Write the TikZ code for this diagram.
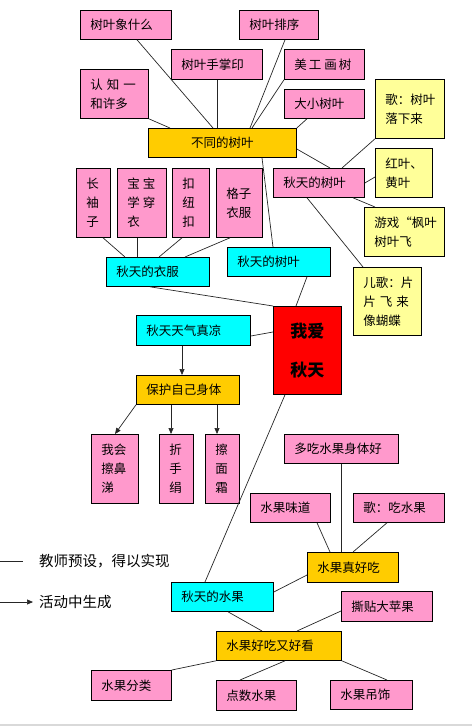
\documentclass[tikz,border=0pt]{standalone}
\usepackage{fontspec}
\setmainfont{Noto Sans CJK SC}
\usetikzlibrary{arrows.meta}
\definecolor{pk}{HTML}{FF99CC}
\definecolor{gd}{HTML}{FFCC00}
\definecolor{cy}{HTML}{00FFFF}
\definecolor{yl}{HTML}{FFFF99}
\definecolor{rd}{HTML}{FF0000}
\tikzset{
  box/.style={draw=black,line width=0.8pt,inner xsep=10pt,inner ysep=0pt,font=\fontsize{12.5}{19}\selectfont},
  con/.style={draw=black!85,line width=0.7pt},
  arr/.style={con,-{Triangle[length=6pt,width=5pt]}},
  legend/.style={anchor=west,inner sep=0pt,font=\fontsize{14.5}{16}\selectfont}
}
\newcommand\bx[8][left]{%
  \pgfmathsetmacro\bw{#5-#3}\pgfmathsetmacro\bh{#6-#4}\pgfmathsetmacro\tw{#5-#3-20}%
  \node[box,fill=#7,minimum width=\bw pt,minimum height=\bh pt,text width=\tw pt,align=#1,anchor=north west] (#2) at (#3,#4) {#8};}
\begin{document}
\begin{tikzpicture}[x=1pt,y=-1pt]
\useasboundingbox (0,0) rectangle (472,726);
\fill[black!15] (0,724) rectangle (472,726);
% boxes
\bx{t1}{80}{10}{171}{39}{pk}{树叶象什么}
\bx{t2}{239}{10}{318}{39}{pk}{树叶排序}
\bx{t3}{171}{49}{262}{79}{pk}{树叶手掌印}
\bx{t4}{284}{49}{364}{79}{pk}{美\hspace{2pt}工\hspace{3pt}画\hspace{2pt}树}
\bx{t5}{80}{69}{148}{118}{pk}{认\hspace{4pt}知\hspace{4pt}一\\和许多}
\bx{t6}{284}{89}{364}{118}{pk}{大小树叶}
\bx{y1}{375}{79}{444}{138}{yl}{歌：树叶\\落下来}
\bx[center]{g1}{148}{128}{296}{157}{gd}{不同的树叶}
\bx{y2}{375}{148}{432}{197}{yl}{红叶、\\黄叶}
\bx{p1}{273}{168}{364}{197}{pk}{秋天的树叶}
\bx{c1}{76}{168}{110}{237}{pk}{长\\袖\\子}
\bx{c2}{117}{168}{166}{237}{pk}{宝\hspace{3pt}宝\\学\hspace{3pt}穿\\衣}
\bx{c3}{172}{168}{209}{237}{pk}{扣\\纽\\扣}
\bx{c4}{216}{168}{262}{237}{pk}{格子\\衣服}
\bx{y3}{364}{207}{444}{256}{yl}{游戏“枫叶\\树叶飞}
\bx{k1}{227}{247}{330}{276}{cy}{秋天的树叶}
\bx{k2}{106}{257}{209}{286}{cy}{秋天的衣服}
\bx{y4}{353}{267}{421}{335}{yl}{儿歌：片\\片\hspace{4pt}飞\hspace{4pt}来\\像蝴蝶}
\node[box,fill=rd,minimum width=68pt,minimum height=88pt,align=center,anchor=north west,inner xsep=0pt,
  font=\fontsize{17}{39}\selectfont\bfseries] (r) at (273,306) {我爱\\秋天};
\bx{k3}{136}{315}{250}{345}{cy}{秋天天气真凉}
\bx{g2}{136}{375}{239}{404}{gd}{保护自己身体}
\bx{b1}{91}{434}{138}{503}{pk}{我会\\擦鼻\\涕}
\bx{b2}{159}{434}{193}{503}{pk}{折\\手\\绢}
\bx{b3}{205}{434}{239}{503}{pk}{擦\\面\\霜}
\bx{f1}{284}{434}{398}{463}{pk}{多吃水果身体好}
\bx{f2}{250}{493}{330}{522}{pk}{水果味道}
\bx{f3}{353}{493}{444}{522}{pk}{歌：吃水果}
\bx{g3}{307}{552}{398}{582}{gd}{水果真好吃}
\bx{k4}{171}{582}{273}{611}{cy}{秋天的水果}
\bx{f4}{341}{591}{432}{621}{pk}{撕贴大苹果}
\bx{g4}{216}{631}{341}{660}{gd}{水果好吃又好看}
\bx{f5}{91}{670}{171}{700}{pk}{水果分类}
\bx{f6}{216}{680}{296}{710}{pk}{点数水果}
\bx{f7}{330}{680}{412}{709}{pk}{水果吊饰}
% connectors
\draw[con] (t1.south -| 137,0) -- (g1.north -| 213,0);
\draw[con] (t3.south -| 217,0) -- (g1.north -| 217,0);
\draw[con] (t2.south -| 285,0) -- (g1.north -| 250,0);
\draw[con] (t4.south west) -- (g1.north -| 252,0);
\draw[con] (t5.south east) -- (g1.north -| 170,0);
\draw[con] (t6.south -| 307,0) -- (g1.north east);
\draw[con] (g1.east |- 0,149) -- (p1.north -| 330,0);
\draw[con] (y1.south west) -- (p1.north -| 342,0);
\draw[con] (y2.west |- 0,177) -- (p1.east |- 0,183);
\draw[con] (p1.south -| 353,0) -- (y3.north -| 375,0);
\draw[con] (p1.south -| 307,0) -- (y4.north -| 363,0);
\draw[con] (g1.south -| 262,0) -- (k1.north -| 273,0);
\draw[con] (c1.south -| 103,0) -- (k2.north -| 125,0);
\draw[con] (c2.south -| 137,0) -- (k2.north -| 137,0);
\draw[con] (c3.south -| 182,0) -- (k2.north -| 159,0);
\draw[con] (c4.south -| 230,0) -- (k2.north -| 185,0);
\draw[con] (k2.south -| 150,0) -- (r.north west);
\draw[con] (k1.south -| 307,0) -- (r.north -| 296,0);
\draw[con] (k3.east |- 0,336) -- (r.west |- 0,332);
\draw[arr] (k3.south -| 182,0) -- (g2.north -| 182,0);
\draw[arr] (g2.south west) -- (b1.north -| 115,0);
\draw[arr] (g2.south -| 171,0) -- (b2.north -| 171,0);
\draw[arr] (g2.south -| 217,0) -- (b3.north -| 217,0);
\draw[con] (r.south -| 285,0) -- (k4.north -| 205,0);
\draw[con] (f1.south -| 341,0) -- (g3.north -| 341,0);
\draw[con] (f2.south -| 317,0) -- (g3.north -| 330,0);
\draw[con] (f3.south -| 387,0) -- (g3.north -| 353,0);
\draw[con] (g3.west |- 0,575) -- (k4.east |- 0,592);
\draw[con] (k4.south -| 228,0) -- (g4.north -| 262,0);
\draw[con] (f4.west |- 0,611) -- (g4.north -| 297,0);
\draw[con] (g4.south west) -- (f5.north east);
\draw[con] (g4.south -| 285,0) -- (f6.north -| 240,0);
\draw[con] (g4.south east) -- (f7.north -| 387,0);
% legend
\coordinate (la) at (0,561);
\coordinate (lb) at (23,561);
\coordinate (lc) at (0,602);
\coordinate (ld) at (33,602);
\draw[con] (la) -- (lb);
\draw[arr] (lc) -- (ld);
\node[legend] (lt1) at (39,561) {教师预设，得以实现};
\node[legend] (lt2) at (39,602) {活动中生成};
\end{tikzpicture}
\end{document}
